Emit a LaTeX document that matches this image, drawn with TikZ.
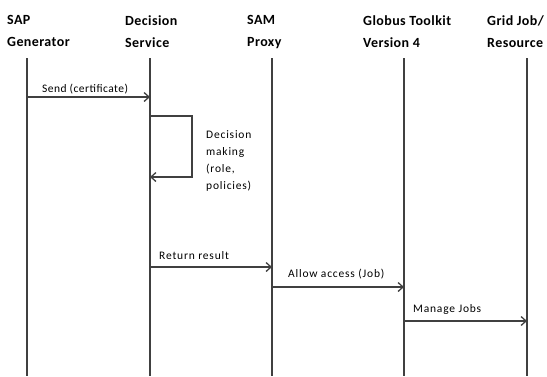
\documentclass[tikz,border=0pt]{standalone}
\usepackage{fontspec}
\setmainfont{Carlito}
\usetikzlibrary{positioning,arrows.meta}

\tikzset{
    header/.style={anchor=north west, align=left, inner sep=0pt, font=\addfontfeatures{LetterSpace=3}\bfseries\fontsize{14}{22}\selectfont},
    lifeline/.style={draw=black!75, line width=1.3pt},
    msg/.style={draw=black!75, line width=1.3pt, -{Straight Barb[length=5pt,width=9pt,line width=1.3pt]}},
    msglabel/.style={inner sep=0pt, font=\addfontfeatures{LetterSpace=7}\fontsize{11.5}{17}\selectfont}
}

\begin{document}
\begin{tikzpicture}[x=1pt,y=-1pt]
    \useasboundingbox (0,0) rectangle (547,376);

    % participants
    \node[header] (sap) at (7,15) {SAP\\Generator};
    \node[header] (dec) at (125,15) {Decision\\Service};
    \node[header] (sam) at (247,15) {SAM\\Proxy};
    \node[header] (gt) at (363,15) {Globus Toolkit\\Version 4};
    \node[header] (grid) at (487,15) {Grid Job/\\Resource};

    % lifelines
    \foreach \name/\x in {sap/27,dec/150,sam/272,gt/404,grid/527} {
        \coordinate (\name top) at (\x,58);
        \coordinate (\name bot) at (\x,376);
        \draw[lifeline] (\name top) -- (\name bot);
    }

    % message points
    \coordinate (send a) at (27,97);
    \coordinate (send b) at (150,97);
    \coordinate (loop a) at (150,116);
    \coordinate (loop b) at (192,116);
    \coordinate (loop c) at (192,177);
    \coordinate (loop d) at (150,177);
    \coordinate (ret a) at (150,267);
    \coordinate (ret b) at (272,267);
    \coordinate (allow a) at (272,287);
    \coordinate (allow b) at (404,287);
    \coordinate (manage a) at (404,321);
    \coordinate (manage b) at (527,321);

    \draw[msg] (send a) -- (send b);
    \node[msglabel, font=\addfontfeatures{LetterSpace=4}\fontsize{11.5}{17}\selectfont, above right=5pt and 15pt of send a, anchor=base west] (send label) {Send (certificate)};

    \draw[msg] (loop a) -- (loop b) -- (loop c) -- (loop d);
    \node[msglabel, anchor=north west, align=left] (loop label) at (206,130) {Decision\\making\\(role,\\policies)};

    \draw[msg] (ret a) -- (ret b);
    \node[msglabel, above right=8pt and 9pt of ret a, anchor=base west] (ret label) {Return result};

    \draw[msg] (allow a) -- (allow b);
    \node[msglabel, above right=10pt and 16pt of allow a, anchor=base west] (allow label) {Allow access (Job)};

    \draw[msg] (manage a) -- (manage b);
    \node[msglabel, above right=9pt and 9pt of manage a, anchor=base west] (manage label) {Manage Jobs};
\end{tikzpicture}
\end{document}
